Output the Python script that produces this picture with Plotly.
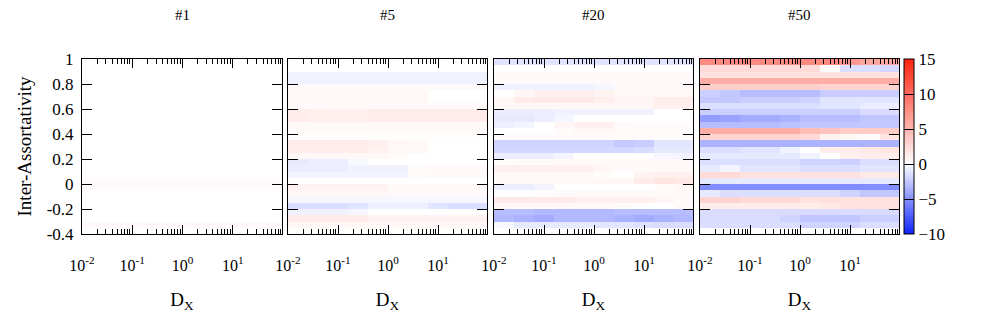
import plotly.graph_objects as go

# ---------------- data ----------------
panel_titles = ["#1", "#5", "#20", "#50"]

# bin edges along D_X (log spaced) and inter-assortativity
x_edges = [0.01, 0.0251, 0.0631, 0.158, 0.398, 1.0, 2.51, 6.31, 15.8, 39.8, 100.0]
y_edges_top_down = [1.0, 0.95, 0.9, 0.85, 0.8, 0.75, 0.7, 0.65, 0.6, 0.55, 0.5,
                    0.45, 0.4, 0.35, 0.3, 0.25, 0.2, 0.15, 0.1, 0.05, 0.0,
                    -0.05, -0.1, -0.15, -0.2, -0.25, -0.3, -0.35, -0.4]

# rows listed top (y=1) to bottom (y=-0.4)
z_1 = [
    [0, 0, 0, 0, 0, 0, 0, 0, 0, 0],
    [0, 0, 0, 0, 0, 0, 0, 0, 0, 0],
    [0, 0, 0, 0, 0, 0, 0, 0, 0, 0],
    [0, 0, 0, 0, 0, 0, 0, 0, 0, 0],
    [0, 0, 0, 0, 0, 0, 0, 0, 0, 0],
    [0, 0, 0, 0, 0, 0, 0, 0, 0, 0],
    [0, 0, 0, 0, 0, 0, 0, 0, 0, 0],
    [0, 0, 0, 0, 0, 0, 0, 0, 0, 0],
    [0, 0, 0, 0, 0, 0, 0, 0, 0, 0],
    [0, 0, 0, 0, 0, 0, 0, 0, 0, 0],
    [0, 0, 0, 0, 0, 0, 0, 0, 0, 0],
    [0, 0, 0, 0, 0, 0, 0, 0, 0, 0],
    [0, 0, 0, 0, 0, 0, 0, 0, 0, 0],
    [0, 0, 0, 0, 0, 0, 0, 0, 0, 0],
    [0, 0, 0, 0, 0, 0, 0, 0, 0, 0],
    [0, 0, 0, 0, 0, 0, 0, 0, 0, 0],
    [0, 0, 0, 0, 0, 0, 0, 0, 0, 0],
    [0, 0, 0, 0, 0, 0, 0, 0, 0, 0],
    [0, 0, 0, 0, 0, 0, 0, 0, 0, 0],
    [0.3, 0.3, 0.3, 0.3, 0.3, 0.3, 0.3, 0.3, 0.3, 0.3],
    [0.3, 0.3, 0.3, 0.3, 0.3, 0.3, 0.3, 0.3, 0.3, 0.3],
    [0, 0, 0, 0, 0, 0, 0, 0, 0, 0],
    [0, 0, 0, 0, 0, 0, 0, 0, 0, 0],
    [0, 0, 0, 0, 0, 0, 0, 0, 0, 0],
    [0, 0, 0, 0, 0, 0, 0, 0, 0, 0],
    [0, 0, 0, 0, 0, 0, 0, 0, 0, 0],
    [0.35, 0.35, 0.35, 0.35, 0.35, 0.35, 0.35, 0.35, 0.35, 0.35],
    [0, 0, 0, 0, 0, 0, 0, 0, 0, 0],
]

z_5 = [
    [0, 0, 0, 0, 0, 0, 0, 0, 0, 0],
    [0, 0, 0, 0, 0, 0, 0, 0, 0, 0],
    [-0.6, -0.6, -0.6, -0.6, -0.6, -0.6, -0.6, -0.6, -0.6, -0.6],
    [-0.6, -0.6, -0.6, -0.6, -0.6, -0.6, -0.6, -0.6, -0.6, -0.6],
    [0.4, 0.4, 0.4, 0.4, 0.4, 0.4, 0.4, 0.4, 0.4, 0.4],
    [0.5, 0.5, 0.5, 0.5, 0.5, 0.5, 0.5, 0, 0, 0],
    [0.5, 0.5, 0.5, 0.5, 0.5, 0.5, 0.5, 0, 0, 0],
    [0.4, 0.4, 0.4, 0.4, 0.4, 0.4, 0.4, 0.4, 0.4, 0.4],
    [1.3, 1.1, 1.0, 1.0, 1.3, 1.3, 1.3, 1.3, 1.3, 1.3],
    [1.3, 1.1, 1.0, 1.0, 1.3, 1.3, 1.3, 1.3, 1.3, 1.3],
    [0.4, 0.4, 0.4, 0.4, 0.4, 0.4, 0.4, 0.4, 0.4, 0.4],
    [0.4, 0.4, 0.4, 0.4, 0.4, 0.4, 0.4, 0.4, 0.4, 0.4],
    [0.1, 0.1, 0.1, 0.1, 0.1, 0.1, 0.1, 0.1, 0.1, 0.1],
    [1.3, 1.3, 1.3, 1.3, 1.0, 0.6, 0.5, 0, 0, 0],
    [1.2, 1.2, 1.2, 1.2, 0.8, 0.5, 0.5, 0, 0, 0],
    [0.5, 0.5, 0.5, 0.5, 0.5, 0.3, 0, 0, 0, 0],
    [-1.0, -0.8, -0.8, -0.3, 0, 0, 0, 0, 0, 0],
    [-0.8, -0.8, -0.8, -0.6, -0.6, -0.6, 0.3, 0.4, 0.4, 0.4],
    [-0.5, -0.5, -0.5, -0.5, -0.5, -0.5, 0.3, 0.4, 0.4, 0.4],
    [0, 0, 0, 0, 0, 0, 0, 0, 0, 0],
    [0.8, 0.8, 0.8, 0.8, 0.8, 0.4, 0.4, 0.4, 0.4, 0.4],
    [0.6, 0.6, 0.6, 0.6, 0.6, 0.4, 0.4, 0.4, 0.4, 0.4],
    [-0.4, -0.4, -0.4, -0.4, -0.4, -0.4, -0.4, -0.4, -0.4, -0.4],
    [-1.5, -1.5, -1.5, -1.2, -0.7, -0.7, -0.7, -1.2, -1.5, -1.5],
    [-0.6, -0.6, -0.6, -0.4, 0, 0, 0, 0, 0, 0],
    [1.3, 1.3, 1.3, 1.3, 0.8, 0.8, 0.8, 0.8, 0.8, 0.8],
    [0.5, 0.5, 0.5, 0.5, 0.5, 0.5, 0.5, 0.5, 0.5, 0.5],
    [0, 0, 0, 0, 0, 0, 0, 0, 0, 0],
]

z_20 = [
    [-1.3, -1.3, -1.3, -1.3, -1.3, -1.3, -1.3, -1.3, -1.3, -1.3],
    [0, 0, 0, 0, 0, 0, 0, 0, 0, 0],
    [0.4, 0.4, 0.4, 0.4, 0.4, 0.4, 0.4, 0.4, 0.4, 0.4],
    [0.4, 0.4, 0.4, 0.4, 0.4, 0.4, 0.4, 0.4, 0.4, 0.4],
    [-0.6, -0.6, -0.6, -0.6, -0.6, -0.4, 0.4, 0.4, 0.4, 0.4],
    [0, 0.6, 1.0, 1.0, 1.0, 0.8, 0.5, 0.5, 0.5, 0.5],
    [0.6, 1.3, 1.5, 1.5, 1.5, 1.0, 0.7, 0.7, 1.2, 1.2],
    [0.5, 0.5, 0.5, 0.5, 0.5, 0.5, 0.5, 0.6, 1.0, 1.0],
    [-0.8, -0.8, -0.8, -0.6, -0.6, -0.6, -0.6, -0.6, 0, 0],
    [-1.0, -1.0, -0.8, -0.4, 0, 0, 0, 0, 0, 0],
    [-0.7, -0.5, 0, 0.6, 1.0, 1.0, 0.4, 0.3, 0.3, 0.3],
    [0, 0, 0, 0.3, 0.6, 0.6, 0.4, 0.3, 0.3, 0.2],
    [0.3, 0.3, 0.3, 0.3, 0.3, 0.3, 0.3, 0.3, 0.3, 0.3],
    [-2.0, -2.0, -2.0, -2.0, -2.0, -2.0, -2.5, -2.3, -1.2, -1.2],
    [-1.8, -1.8, -1.8, -1.8, -1.8, -1.8, -1.8, -1.6, -1.0, -1.0],
    [-0.8, -0.8, -0.8, -0.5, 0, 0, 0, 0, -0.4, -0.5],
    [0.2, 0.3, 0.3, 0.4, 0.4, 0.4, 0.4, 0.4, 0.4, 0.4],
    [1.0, 1.0, 1.0, 1.0, 1.0, 0.6, 0.4, 0.4, 0.4, 0.4],
    [0.4, 0.4, 0.4, 0.4, 0.4, 0.2, 0, 0.8, 1.0, 1.0],
    [0.4, 0.4, 0.4, 0.5, 0.5, 0.5, 0.6, 1.3, 1.8, 1.6],
    [-0.8, -0.8, -0.5, 0, 0, 0, 0, 0, 0.2, 0.5],
    [0, 0, 0.2, 0.4, 0.4, 0.4, 0.4, 0.4, 0.4, 0.4],
    [1.4, 1.4, 1.4, 1.4, 1.0, 1.0, 1.0, 1.0, 0.6, 0.4],
    [0.5, 0.5, 0.5, 0.5, 0.5, 0.5, 0.3, 0, 0, 0.4],
    [-3.0, -3.0, -3.2, -3.2, -3.2, -3.2, -3.0, -3.0, -3.0, -3.0],
    [-3.2, -3.5, -3.8, -3.2, -3.2, -3.2, -3.5, -3.8, -3.5, -3.2],
    [-0.3, -1.0, -1.0, -1.0, -1.0, -1.2, -1.2, -1.4, -1.6, -1.6],
    [0, 0, 0, 0, 0, 0, 0, 0, 0, 0],
]

z_50 = [
    [8, 8, 8, 8, 8, 8, 8, 7, 6, 6],
    [2.5, 2.5, 2.5, 2.5, 2.5, 2.5, 0.3, -1.5, -1.5, -1.8],
    [2, 2, 2, 2, 2, 2, 2, 2, 2, 2],
    [5.5, 5.5, 5.5, 5.5, 5.5, 5.5, 5.5, 5.5, 5.5, 5.5],
    [3.3, 3.3, 3.3, 3.3, 3.3, 3.3, 3, 3, 3, 3],
    [-2.2, -2.5, -3, -3, -3, -3, -2.3, -2.3, -2.3, -2.3],
    [-2.5, -2.5, -2.2, -2.2, -2.2, -2, -1.2, -1.2, -1.2, -1.2],
    [-1.5, -1.5, -1.5, -1.5, -1.5, -1.5, -1.2, -1.2, -0.8, -0.8],
    [-2.2, -2.2, -2.2, -2.2, -2.2, -2.2, -2.2, -2.2, -1.6, -1.6],
    [-4.5, -4.2, -3.8, -3.8, -3.5, -3, -3, -3, -2.6, -2.6],
    [-3, -3, -3, -3, -2.8, -2.6, -2.6, -2.6, -2.5, -2.5],
    [5.5, 5.5, 5.5, 5.5, 5.5, 4.5, 4, 3.5, 3.5, 3.5],
    [3, 3, 3, 3, 3, 2.5, 0.8, 0.5, 0.3, 1.8],
    [-3.5, -3.5, -3.5, -3.5, -3.5, -3.5, -3.5, -3.5, -3.5, -3.5],
    [-1.5, -1.5, -1.2, -1.2, -0.6, 0, 1.2, 1.2, 1.5, 1.8],
    [-1, -1, -1, -1, -1, -0.6, 0, 1, 1.2, 1.2],
    [-1.5, -1.5, -1.5, -1.5, -1.5, -2, -2, -2.2, -1.5, -1.5],
    [-1, -0.5, -1.2, -1.2, -1.2, -1.5, -1.5, -1.5, -1.2, -1.2],
    [2.5, 2.5, 2, 2, 2, 2, 2, 2, 1.5, 1.5],
    [-1, -1, -1, -1, -1, -1, -1, -1, -1, -1],
    [-5.2, -5.2, -5.2, -5.2, -5.2, -5.2, -5.2, -5.2, -5.2, -5.2],
    [-1, -1.5, -1.5, -1.5, -1.5, -1.5, -1.5, -2, -2.6, -2.6],
    [3, 3, 2.5, 2.5, 2.5, 2, 2, 2, 2, 2],
    [1.2, 1.2, 1.2, 1.2, 1.2, 1.2, 1.5, 2, 2, 2],
    [-1.6, -1.6, -1.6, -1.6, -1.6, -1.6, -1.6, -1.6, -1.6, -1.6],
    [-1.6, -1.6, -1.6, -1.6, -2, -2.6, -2.6, -2.6, -2.2, -2.2],
    [-1.5, -1.5, -1.5, -1.5, -1.5, -2, -2, -2, -1.5, -1.5],
    [0, 0, 0, 0, 0, 0, 0, 0, 0, 0],
]

panels_z = [z_1, z_5, z_20, z_50]

x_tick_vals = [0.01, 0.1, 1, 10]
x_tick_text = ["10<sup>-2</sup>", "10<sup>-1</sup>", "10<sup>0</sup>", "10<sup>1</sup>"]
x_minor_vals = [2e-2, 3e-2, 4e-2, 5e-2, 6e-2, 7e-2, 8e-2, 9e-2,
                0.2, 0.3, 0.4, 0.5, 0.6, 0.7, 0.8, 0.9,
                2, 3, 4, 5, 6, 7, 8, 9,
                20, 30, 40, 50, 60, 70, 80, 90]
y_tick_vals = [-0.4, -0.2, 0, 0.2, 0.4, 0.6, 0.8, 1]
y_tick_text = ["-0.4", "-0.2", "0", "0.2", "0.4", "0.6", "0.8", "1"]
cbar_ticks = [-10, -5, 0, 5, 10, 15]

# ---------------- figure ----------------
FONT = "Liberation Serif"
OFF = 8  # page body margin offset
W, H = 981 - OFF, 327 - OFF
ML, MT = 82 - OFF, 59 - OFF
PW, PH = 817, 175
MR = W - ML - PW
MB = H - MT - PH
panel_px = [(0, 200), (206, 405), (412, 611), (618, 817)]

y_edges = y_edges_top_down[::-1]

fig = go.Figure()
for i, z in enumerate(panels_z):
    n = i + 1
    fig.add_trace(go.Heatmap(
        x=x_edges, y=y_edges, z=z[::-1],
        coloraxis="coloraxis",
        xaxis="x" if n == 1 else f"x{n}",
        yaxis="y" if n == 1 else f"y{n}",
        zsmooth=False, hoverinfo="skip",
    ))

layout = dict(
    width=W, height=H,
    margin=dict(l=ML, r=MR, t=MT, b=MB, autoexpand=False),
    paper_bgcolor="white", plot_bgcolor="white",
    font=dict(family=FONT, color="black", size=16),
    showlegend=False,
    coloraxis=dict(
        cmin=-10, cmax=15,
        colorscale=[[0.0, "rgb(15,35,255)"], [0.4, "rgb(255,255,255)"], [1.0, "rgb(255,35,15)"]],
        colorbar=dict(
            x=(904 - 82) / PW, xanchor="left", xpad=0,
            y=0.5, yanchor="middle", ypad=0,
            len=PH, lenmode="pixels", thickness=10, thicknessmode="pixels",
            outlinecolor="black", outlinewidth=1,
            tickvals=cbar_ticks, ticks="inside", ticklen=10, tickcolor="black", tickwidth=1,
            tickprefix="\u00a0", tickfont=dict(family=FONT, size=17),
        ),
    ),
)

annotations = []
for i, (a, b) in enumerate(panel_px):
    n = i + 1
    xk = "xaxis" if n == 1 else f"xaxis{n}"
    yk = "yaxis" if n == 1 else f"yaxis{n}"
    layout[xk] = dict(
        type="log", domain=[a / PW, b / PW], range=[-2, 1.98],
        anchor="y" if n == 1 else f"y{n}",
        tickmode="array", tickvals=x_tick_vals, ticktext=x_tick_text,
        ticks="inside", ticklen=9, tickwidth=1, tickcolor="black",
        minor=dict(tickmode="array", tickvals=x_minor_vals, ticks="inside",
                   ticklen=5, tickwidth=1, tickcolor="black", showgrid=False),
        showline=True, linecolor="black", linewidth=1, mirror="allticks",
        showgrid=False, zeroline=False, automargin=False,
        tickfont=dict(family=FONT, size=16), ticklabelstandoff=17,
        title=dict(text="D<sub>X</sub>", font=dict(family=FONT, size=19), standoff=19),
    )
    layout[yk] = dict(
        domain=[0, 1], range=[-0.4, 1.0],
        anchor="x" if n == 1 else f"x{n}",
        tickmode="array", tickvals=y_tick_vals, ticktext=y_tick_text,
        ticks="inside", ticklen=10, tickwidth=1, tickcolor="black",
        showline=True, linecolor="black", linewidth=1, mirror="allticks",
        showgrid=False, zeroline=False, automargin=False,
        showticklabels=(n == 1),
        tickfont=dict(family=FONT, size=17), ticklabelstandoff=4,
    )
    if n == 1:
        layout[yk]["title"] = dict(text="Inter-Assortativity",
                                   font=dict(family=FONT, size=19), standoff=10)
    annotations.append(dict(
        text=panel_titles[i], x=(a + b) / 2 / PW, xref="paper", xanchor="center",
        y=1 + (59 - 15) / PH, yref="paper", yanchor="middle",
        showarrow=False, font=dict(family=FONT, size=15),
    ))
layout["annotations"] = annotations
fig.update_layout(**layout)

fig.write_html("out.html")
